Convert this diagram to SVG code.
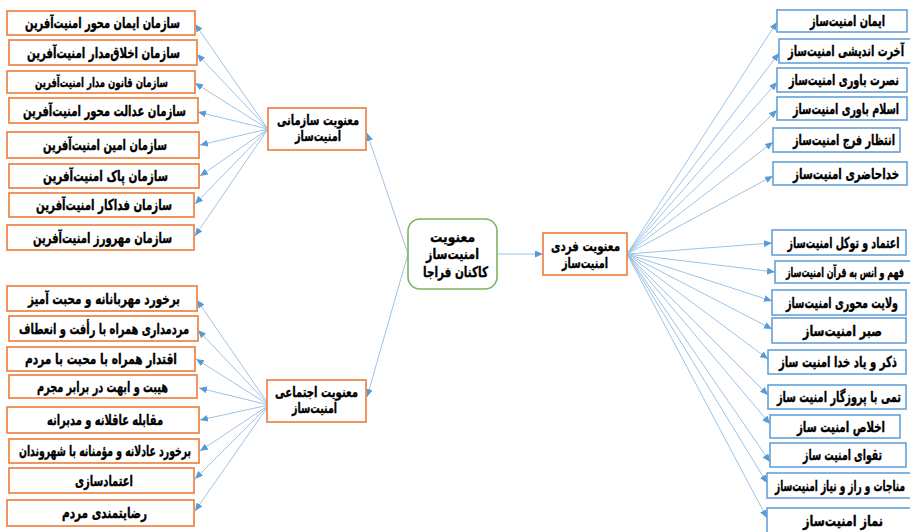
<svg xmlns="http://www.w3.org/2000/svg" width="910" height="532" viewBox="0 0 910 532">
<defs>
<style>
.o{fill:#fff;stroke:#EE8A4E;stroke-width:1.8}
.b{fill:#fff;stroke:#5B9BD5;stroke-width:1.5}
.g{fill:#fff;stroke:#7DB35F;stroke-width:1.6}
text{font-family:"DejaVu Sans",sans-serif;font-weight:bold;fill:#000;stroke:#000;stroke-width:0.25;text-anchor:middle;font-size:10px}
.s{font-size:9px}
.t{font-size:8px}
.c line{stroke:#9DC3E6;stroke-width:1;marker-end:url(#ah)}
</style>
<marker id="ah" markerUnits="userSpaceOnUse" markerWidth="8" markerHeight="7" refX="8" refY="3.5" orient="auto"><path d="M0,0 L8,3.5 L0,7 z" fill="#5B9BD5"/></marker>
</defs>
<rect width="910" height="532" fill="#fff"/>
<g id="connectors" class="c">
<line x1="268" y1="129" x2="195" y2="24"/>
<line x1="268" y1="129" x2="197" y2="54"/>
<line x1="268" y1="129" x2="195" y2="83"/>
<line x1="268" y1="129" x2="198" y2="112"/>
<line x1="268" y1="129" x2="200" y2="145"/>
<line x1="268" y1="129" x2="200" y2="176"/>
<line x1="268" y1="129" x2="195" y2="204"/>
<line x1="268" y1="129" x2="195" y2="236"/>
<line x1="269" y1="405" x2="197" y2="300"/>
<line x1="269" y1="405" x2="198" y2="330"/>
<line x1="269" y1="405" x2="196" y2="359"/>
<line x1="269" y1="405" x2="199" y2="388"/>
<line x1="269" y1="405" x2="200" y2="420"/>
<line x1="269" y1="405" x2="200" y2="451"/>
<line x1="269" y1="405" x2="195" y2="479"/>
<line x1="269" y1="405" x2="195" y2="511"/>
<line x1="408" y1="254" x2="367" y2="133"/>
<line x1="408" y1="254" x2="367" y2="397"/>
<line x1="497" y1="254" x2="543" y2="254"/>
<line x1="627" y1="254" x2="777" y2="22"/>
<line x1="627" y1="254" x2="779" y2="53"/>
<line x1="627" y1="254" x2="777" y2="82"/>
<line x1="627" y1="254" x2="777" y2="110"/>
<line x1="627" y1="254" x2="773" y2="142"/>
<line x1="627" y1="254" x2="773" y2="176"/>
<line x1="627" y1="254" x2="772" y2="243"/>
<line x1="627" y1="254" x2="775" y2="272"/>
<line x1="627" y1="254" x2="772" y2="301"/>
<line x1="627" y1="254" x2="772" y2="329"/>
<line x1="627" y1="254" x2="768" y2="359"/>
<line x1="627" y1="254" x2="768" y2="395"/>
<line x1="627" y1="254" x2="770" y2="424"/>
<line x1="627" y1="254" x2="770" y2="462"/>
<line x1="627" y1="254" x2="767" y2="483"/>
<line x1="627" y1="254" x2="767" y2="518"/>
</g>
<g id="center"><rect class="g" x="408" y="219" width="89" height="70" rx="12"/>
<text transform="translate(452.5,242) scale(1,1.45)" textLength="45" lengthAdjust="spacingAndGlyphs">معنویت</text>
<text transform="translate(452.5,259) scale(1,1.45)" textLength="53" lengthAdjust="spacingAndGlyphs">امنیت‌ساز</text>
<text transform="translate(455.5,277) scale(1,1.45)" textLength="65" lengthAdjust="spacingAndGlyphs">کاکنان فراجا</text></g>
<g id="cat-org"><rect class="o" x="268" y="108" width="98" height="42"/>
<text transform="translate(318,125) scale(1,1.4)" textLength="82" lengthAdjust="spacingAndGlyphs">معنویت سازمانی</text>
<text transform="translate(318,141) scale(1,1.4)" textLength="46" lengthAdjust="spacingAndGlyphs">امنیت‌ساز</text></g>
<g id="cat-soc"><rect class="o" x="267" y="380" width="99" height="42"/>
<text transform="translate(316.5,397) scale(1,1.4)" textLength="83" lengthAdjust="spacingAndGlyphs">معنویت اجتماعی</text>
<text transform="translate(314.5,413) scale(1,1.4)" textLength="45" lengthAdjust="spacingAndGlyphs">امنیت‌ساز</text></g>
<g id="cat-ind"><rect class="o" x="543" y="233" width="84" height="42"/>
<text transform="translate(585.5,251) scale(1,1.4)" textLength="69" lengthAdjust="spacingAndGlyphs">معنویت فردی</text>
<text transform="translate(585,268) scale(1,1.4)" textLength="46" lengthAdjust="spacingAndGlyphs">امنیت‌ساز</text></g>
<g id="l1"><rect class="o" x="7" y="11" width="188" height="24"/><text transform="translate(102.5,28) scale(1,1.5)" textLength="155" lengthAdjust="spacingAndGlyphs">سازمان ایمان محور امنیت‌آفرین</text></g>
<g id="l2"><rect class="o" x="9" y="40" width="188" height="25"/><text transform="translate(103.5,57.5) scale(1,1.5)" textLength="153" lengthAdjust="spacingAndGlyphs">سازمان اخلاق‌مدار  امنیت‌آفرین</text></g>
<g id="l3"><rect class="o" x="7" y="71" width="188" height="22"/><text class="s" transform="translate(101.5,86.5) scale(1,1.45)" textLength="133" lengthAdjust="spacingAndGlyphs">سازمان قانون مدار امنیت‌آفرین</text></g>
<g id="l4"><rect class="o" x="9" y="98" width="189" height="25"/><text transform="translate(104.5,115.5) scale(1,1.5)" textLength="163" lengthAdjust="spacingAndGlyphs">سازمان عدالت محور امنیت‌آفرین</text></g>
<g id="l5"><rect class="o" x="7" y="132" width="192" height="26"/><text transform="translate(105,150) scale(1,1.5)" textLength="124" lengthAdjust="spacingAndGlyphs">سازمان امین امنیت‌آفرین</text></g>
<g id="l6"><rect class="o" x="9" y="164" width="190" height="24"/><text transform="translate(105.5,181) scale(1,1.5)" textLength="125" lengthAdjust="spacingAndGlyphs">سازمان پاک امنیت‌آفرین</text></g>
<g id="l7"><rect class="o" x="9" y="193" width="185" height="24"/><text transform="translate(104,210) scale(1,1.5)" textLength="136" lengthAdjust="spacingAndGlyphs">سازمان فداکار امنیت‌آفرین</text></g>
<g id="l8"><rect class="o" x="7" y="225" width="187" height="25"/><text transform="translate(102.5,242.5) scale(1,1.5)" textLength="139" lengthAdjust="spacingAndGlyphs">سازمان مهرورز امنیت‌آفرین</text></g>
<g id="l9"><rect class="o" x="7" y="286" width="190" height="25"/><text transform="translate(104,303.5) scale(1,1.5)" textLength="152" lengthAdjust="spacingAndGlyphs">برخورد مهربانانه و محبت آمیز</text></g>
<g id="l10"><rect class="o" x="9" y="316" width="189" height="25"/><text transform="translate(104,333.5) scale(1,1.5)" textLength="170" lengthAdjust="spacingAndGlyphs">مردمداری همراه با رأفت و انعطاف</text></g>
<g id="l11"><rect class="o" x="7" y="347" width="188" height="24"/><text transform="translate(101,364) scale(1,1.5)" textLength="152" lengthAdjust="spacingAndGlyphs">اقتدار همراه با محبت با مردم</text></g>
<g id="l12"><rect class="o" x="9" y="375" width="188" height="23"/><text transform="translate(102.5,391.5) scale(1,1.5)" textLength="131" lengthAdjust="spacingAndGlyphs">هیبت و ابهت در برابر مجرم</text></g>
<g id="l13"><rect class="o" x="7" y="407" width="192" height="26"/><text transform="translate(105,425) scale(1,1.5)" textLength="116" lengthAdjust="spacingAndGlyphs">مقابله عاقلانه و مدبرانه</text></g>
<g id="l14"><rect class="o" x="9" y="439" width="190" height="24"/><text transform="translate(105,456) scale(1,1.5)" textLength="172" lengthAdjust="spacingAndGlyphs">برخورد عادلانه و مؤمنانه با شهروندان</text></g>
<g id="l15"><rect class="o" x="9" y="468" width="185" height="25"/><text transform="translate(104,485.5) scale(1,1.5)" textLength="58" lengthAdjust="spacingAndGlyphs">اعتمادسازی</text></g>
<g id="l16"><rect class="o" x="7" y="500" width="187" height="26"/><text transform="translate(104.5,518) scale(1,1.5)" textLength="85" lengthAdjust="spacingAndGlyphs">رضایتمندی مردم</text></g>
<g id="r1"><rect class="b" x="777" y="10" width="130" height="22"/><text transform="translate(847.5,26) scale(1,1.5)" textLength="75" lengthAdjust="spacingAndGlyphs">ایمان امنیت‌ساز</text></g>
<g id="r2"><rect class="b" x="779" y="39" width="135" height="24"/><text transform="translate(846,56) scale(1,1.5)" textLength="116" lengthAdjust="spacingAndGlyphs">آخرت اندیشی امنیت‌ساز</text></g>
<g id="r3"><rect class="b" x="777" y="68" width="130" height="24"/><text transform="translate(844,85) scale(1,1.5)" textLength="110" lengthAdjust="spacingAndGlyphs">نصرت باوری امنیت‌ساز</text></g>
<g id="r4"><rect class="b" x="777" y="97" width="130" height="23"/><text transform="translate(846,113.5) scale(1,1.5)" textLength="106" lengthAdjust="spacingAndGlyphs">اسلام باوری امنیت‌ساز</text></g>
<g id="r5"><rect class="b" x="773" y="128" width="127" height="24"/><text transform="translate(844,145) scale(1,1.5)" textLength="102" lengthAdjust="spacingAndGlyphs">انتظار فرج امنیت‌ساز</text></g>
<g id="r6"><rect class="b" x="773" y="162" width="134" height="23"/><text transform="translate(846,178.5) scale(1,1.5)" textLength="106" lengthAdjust="spacingAndGlyphs">خداحاضری امنیت‌ساز</text></g>
<g id="r7"><rect class="b" x="772" y="230" width="134" height="25"/><text transform="translate(843.5,247.5) scale(1,1.5)" textLength="112" lengthAdjust="spacingAndGlyphs">اعتماد و توکل امنیت‌ساز</text></g>
<g id="r8"><rect class="b" x="775" y="261" width="139" height="22"/><text class="t" transform="translate(845,276.5) scale(1,1.65)" textLength="118" lengthAdjust="spacingAndGlyphs">فهم و انس به قرآن امنیت‌ساز</text></g>
<g id="r9"><rect class="b" x="772" y="290" width="134" height="25"/><text transform="translate(842,307.5) scale(1,1.5)" textLength="112" lengthAdjust="spacingAndGlyphs">ولایت محوری امنیت‌ساز</text></g>
<g id="r10"><rect class="b" x="772" y="318" width="134" height="25"/><text transform="translate(842.5,335.5) scale(1,1.5)" textLength="79" lengthAdjust="spacingAndGlyphs">صبر امنیت‌ساز</text></g>
<g id="r11"><rect class="b" x="768" y="350" width="138" height="24"/><text transform="translate(838,367) scale(1,1.5)" textLength="118" lengthAdjust="spacingAndGlyphs">ذکر و یاد خدا امنیت ساز</text></g>
<g id="r12"><rect class="b" x="768" y="385" width="138" height="24"/><text transform="translate(839,402) scale(1,1.5)" textLength="124" lengthAdjust="spacingAndGlyphs">تمی با پروزگار امنیت ساز</text></g>
<g id="r13"><rect class="b" x="770" y="415" width="130" height="23"/><text transform="translate(841,431.5) scale(1,1.5)" textLength="88" lengthAdjust="spacingAndGlyphs">اخلاص امنیت ساز</text></g>
<g id="r14"><rect class="b" x="770" y="443" width="136" height="24"/><text transform="translate(842.5,460) scale(1,1.5)" textLength="79" lengthAdjust="spacingAndGlyphs">تقوای امنیت ساز</text></g>
<g id="r15"><rect class="b" x="767" y="473" width="147" height="25"/><text class="s" transform="translate(840,490.5) scale(1,1.67)" textLength="130" lengthAdjust="spacingAndGlyphs">مناجات و راز و نیاز امنیت‌ساز</text></g>
<g id="r16"><rect class="b" x="767" y="508" width="147" height="30"/><text transform="translate(843,525.5) scale(1,1.5)" textLength="80" lengthAdjust="spacingAndGlyphs">نماز امنیت‌ساز</text></g>
</svg>
